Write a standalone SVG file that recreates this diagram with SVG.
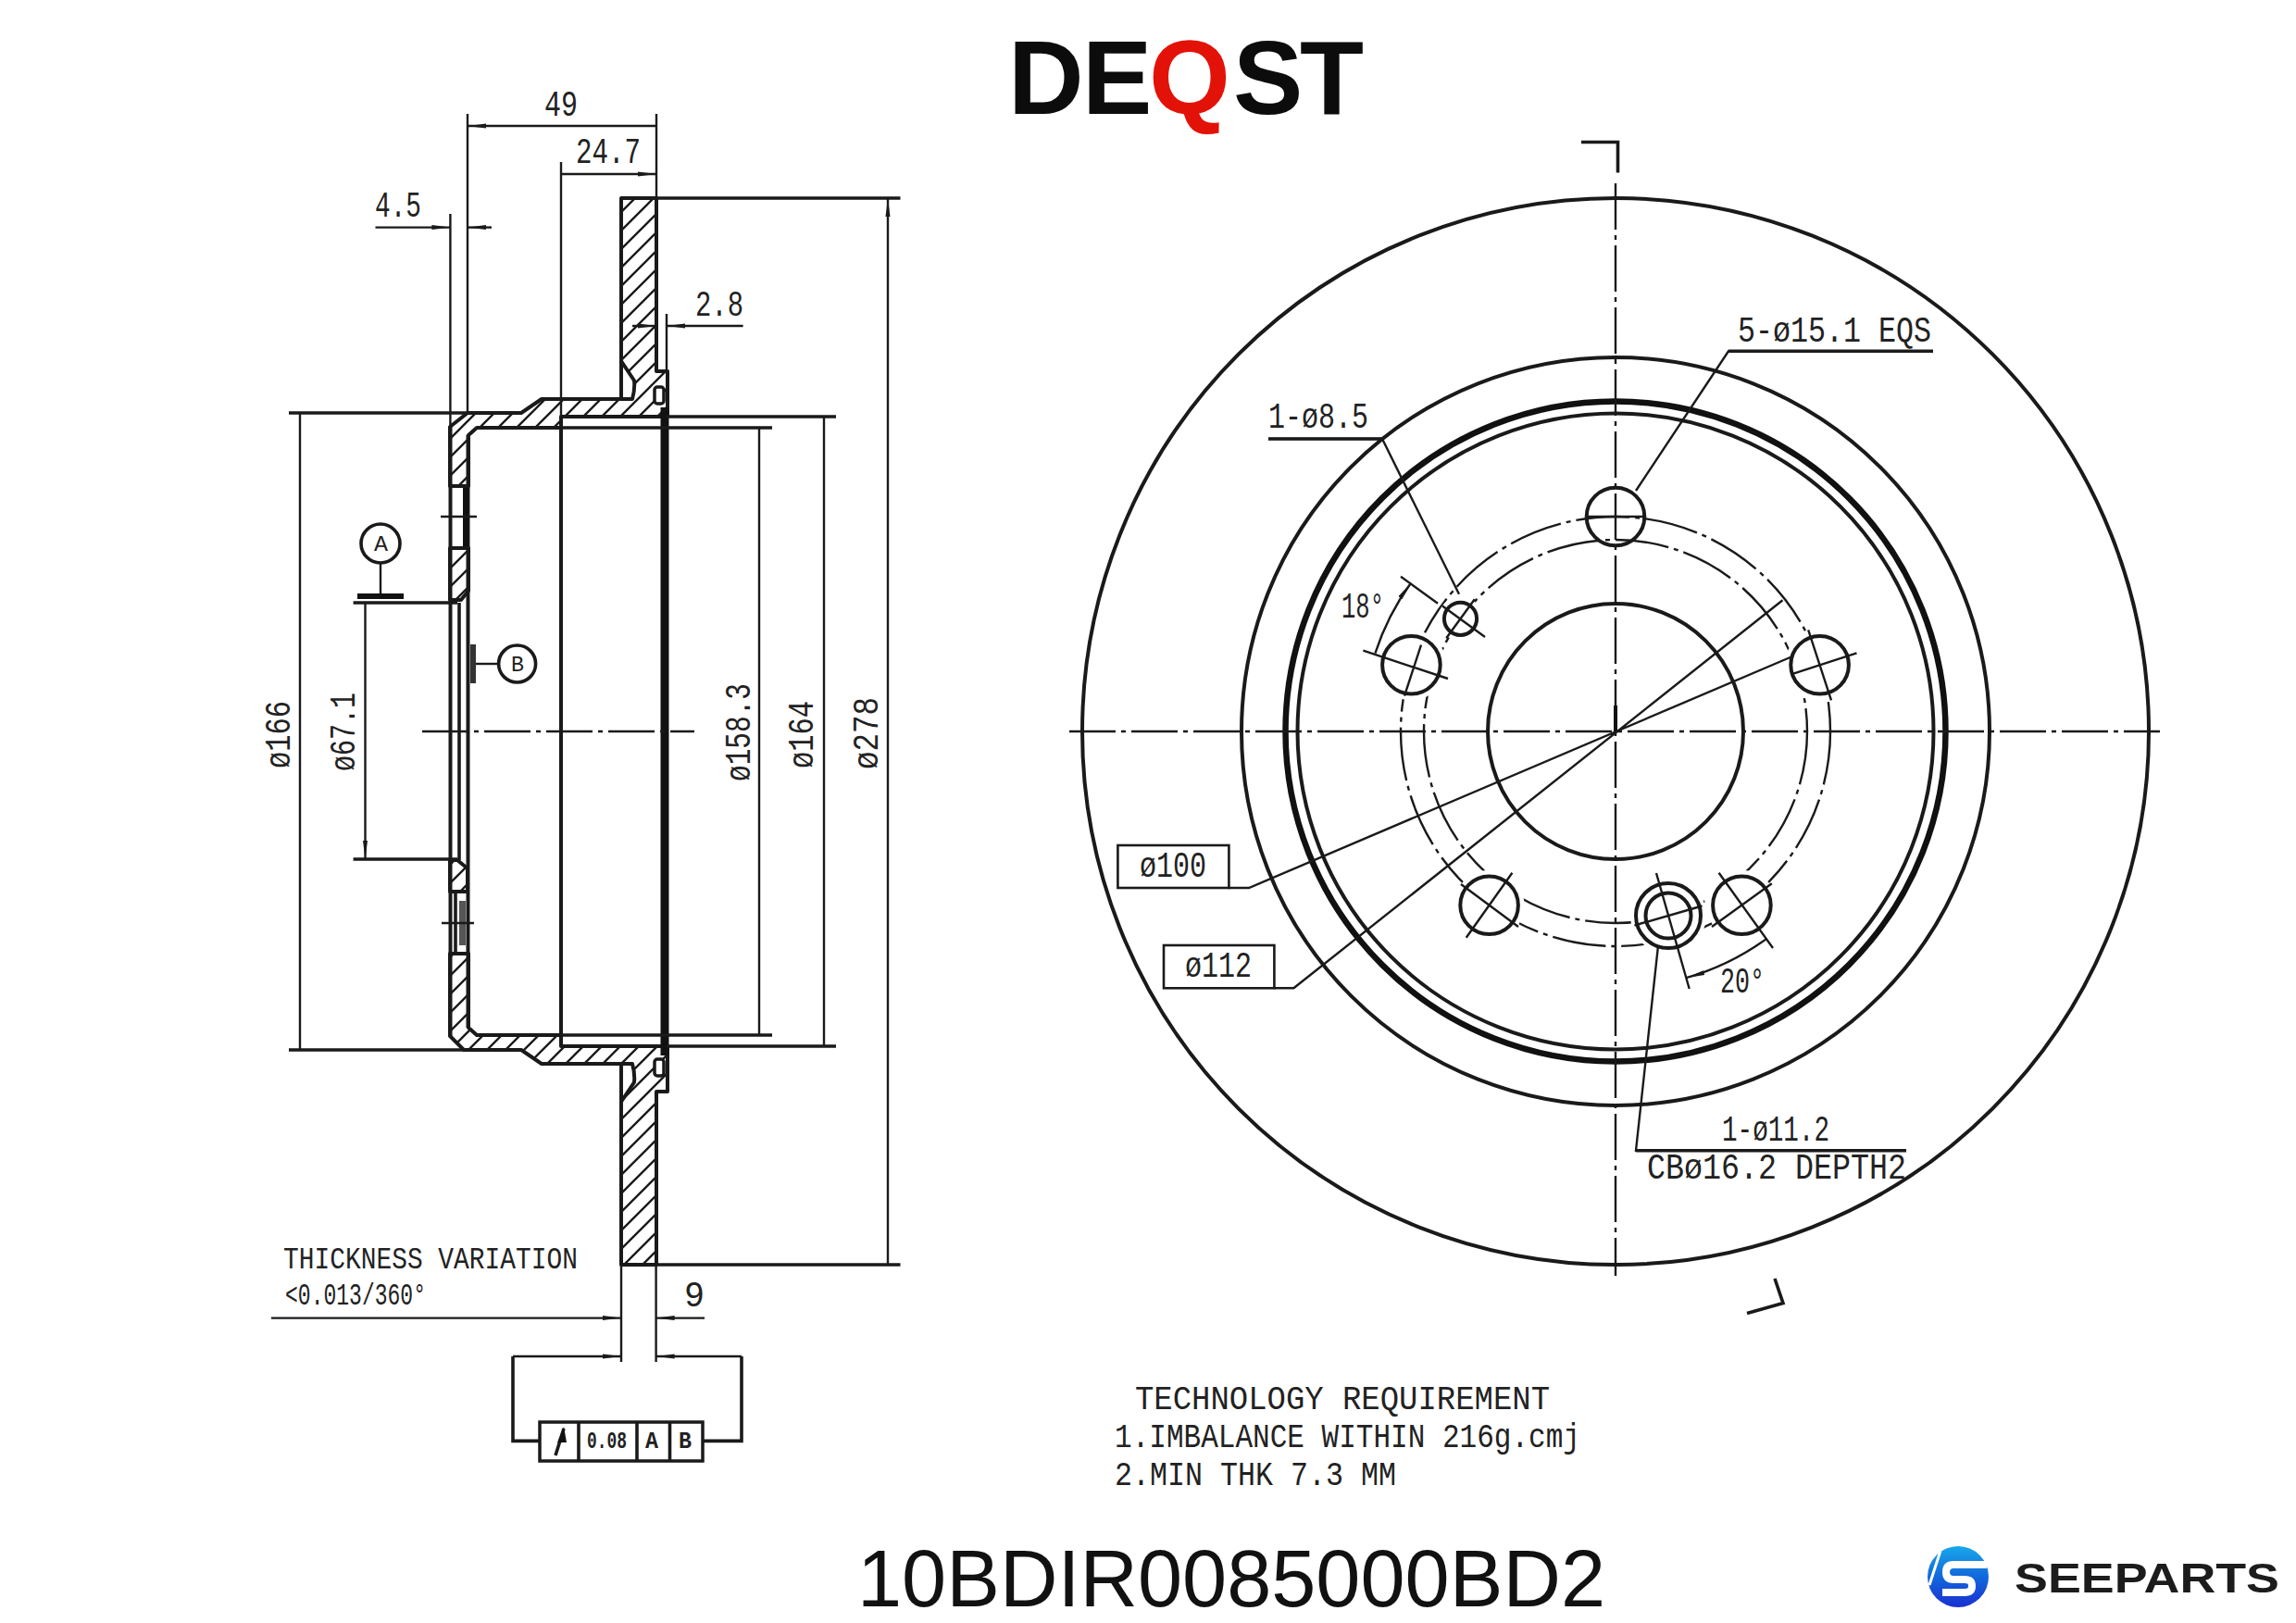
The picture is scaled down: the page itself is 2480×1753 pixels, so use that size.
<svg xmlns="http://www.w3.org/2000/svg" width="2480" height="1753" viewBox="0 0 2480 1753">
<style>
.o{fill:none;stroke:#1a1a1a;stroke-width:4}
.t{fill:none;stroke:#1a1a1a;stroke-width:2.4}
.m{fill:none;stroke:#1a1a1a;stroke-width:3.6}
.c{fill:none;stroke:#1a1a1a;stroke-width:2.4;stroke-dasharray:50 6 5 6}
.p{fill:none;stroke:#1a1a1a;stroke-width:2.4;stroke-dasharray:58 6 5 6}
.s{fill:url(#h);stroke:#1a1a1a;stroke-width:4;stroke-linejoin:round}
.d{fill:none;stroke:#1a1a1a;stroke-width:2.4;marker-end:url(#ar)}
.b{fill:none;stroke:#1a1a1a;stroke-width:2.4;marker-start:url(#ar);marker-end:url(#ar)}
.w{fill:#fff;stroke:none}
.x{font-family:"Liberation Mono","DejaVu Sans Mono",monospace;fill:#222}
.lg{font-family:"Liberation Sans",Arial,sans-serif;font-weight:700;fill:#0c0c0c;font-size:113px}
</style>
<defs>
<pattern id="h" width="20" height="20" patternUnits="userSpaceOnUse"><path d="M-5 5L5-5M0 20L20 0M15 25L25 15" stroke="#1a1a1a" stroke-width="2.4" fill="none"/></pattern>
<marker id="ar" viewBox="0 0 20 8" refX="20" refY="4" markerWidth="20" markerHeight="8" markerUnits="userSpaceOnUse" orient="auto-start-reverse"><path d="M0 1.500L20 4L0 6.500Z" fill="#1a1a1a"/></marker>
<linearGradient id="blue" x1="0" y1="0" x2="0" y2="1"><stop offset="0" stop-color="#18a8ea"/><stop offset=".5" stop-color="#1268dc"/><stop offset="1" stop-color="#1a2fd0"/></linearGradient>
</defs>
<rect width="2480" height="1753" fill="#fff"/>

<g id="logo-deqst">
<text class="lg" x="1089 1169 1241 1332 1404" y="123">DE<tspan fill="#e31208" style="fill:#e31208">Q</tspan>ST</text>
</g>

<g id="section-view">
<path class="s" d="M671 214H709V401H721V450H606V462H515L506 470V525H486V461L505 446H563L585 431H683Q686 420 685 411L671 390Z"/>
<path class="s" d="M671 1366H709V1179H721V1130H606V1118H515L506 1110V1030H486V1119L501 1134H563L585 1149H683Q686 1160 685 1169L671 1190Z"/>
<path class="s" d="M486 592H506V638L498 648H486Z"/>
<path class="s" d="M486 929H494L505 938V963H486Z"/>
<path class="o" d="M671 390V431M671 1190V1149"/>
<rect x="707" y="418" width="10" height="18" rx="3" fill="#fff" stroke="#1a1a1a" stroke-width="3.500"/>
<rect x="707" y="1144" width="10" height="18" rx="3" fill="#fff" stroke="#1a1a1a" stroke-width="3.500"/>
<path class="o" d="M486.500 461V1119M505.500 470V1110M606 450V1130"/>
<path d="M718 440V1140" fill="none" stroke="#111" stroke-width="9"/>
<path class="m" d="M496 651V929"/>
<path d="M503 525V592" fill="none" stroke="#111" stroke-width="6"/>
<path class="o" d="M486 525H506M486 592H506"/>
<path class="m" d="M492 963V1030"/>
<path d="M499.500 973V1021" fill="none" stroke="#555" stroke-width="7"/>
<path class="t" d="M476 558H515M477 997H512"/>
<path class="c" d="M456 790H750"/>
</g>

<g id="front-view">
<circle class="o" cx="1745" cy="790" r="576"/>
<circle class="o" cx="1745" cy="790" r="404"/>
<circle cx="1745" cy="790" r="356.500" fill="none" stroke="#111" stroke-width="6.500"/>
<circle class="o" cx="1745" cy="790" r="343.500"/>
<circle class="o" cx="1745" cy="790" r="138"/>
<circle class="p" cx="1745" cy="790" r="232"/>
<circle class="p" cx="1745" cy="790" r="207"/>
<g class="w">
<circle cx="1965.600" cy="718.300" r="38"/><circle cx="1881.400" cy="977.700" r="38"/><circle cx="1608.600" cy="977.700" r="38"/><circle cx="1524.400" cy="718.300" r="38"/><circle cx="1577.500" cy="668.300" r="24"/><circle cx="1802" cy="989" r="41"/>
</g>
<path class="c" d="M1745 198V1378M1155 790H2333"/>
<path d="M1745 762V790" fill="none" stroke="#111" stroke-width="4"/>
<g id="holes">
<circle class="o" cx="1745" cy="558" r="31.300"/>
<circle class="o" cx="1965.600" cy="718.300" r="31.300"/>
<circle class="o" cx="1881.400" cy="977.700" r="31.300"/>
<circle class="o" cx="1608.600" cy="977.700" r="31.300"/>
<circle class="o" cx="1524.400" cy="718.300" r="31.300"/>
<circle class="o" cx="1577.500" cy="668.300" r="17.600"/>
<circle class="o" cx="1802" cy="989" r="35"/>
<circle class="o" cx="1802" cy="989" r="24.500"/>
</g>
<path class="t" d="M1714 558H1777M1937 727.600L2005.500 705.300M1953.200 680.300L1978 756.300M1856.600 942.700L1915 1024M1849 1001L1913.800 954.200M1633.400 942.700L1583.700 1012.700M1578 955L1640 1001M1472.400 702.700L1564 733M1517 751.600L1535 696.700M1513 622.700L1553 651.700M1558 654.500L1604 688M1592.800 647.300L1562.200 689.300M1789 943L1824.700 1068M1765.500 999.500L1838.500 978.500"/>
<path class="b" d="M1524.100 629.500A273 273 0 0 0 1485.400 705.600M1907.900 1014.100A277 277 0 0 1 1821.300 1056.200"/>
<path class="m" d="M1708 153.500H1747.500V186.500M1887 1418.600L1926 1407.600L1917 1381"/>
</g>

<g id="connectors">
<path class="t" d="M505 123V446M709 123V214M606 175V450M486.400 231V461M720 339V401"/>
<path class="b" d="M505 136H709M606 188H709"/>
<path class="d" d="M405.500 245.600H486.400"/>
<path class="d" d="M531 245.600H505"/>
<path class="d" d="M683 352H709"/>
<path class="d" d="M802.600 352H720"/>
<path class="m" d="M709 214H972.500M709 1366H972.500M720 450H903M720 1130H903M606 462H834M606 1118H834M312 446H505M312 1134H501M381.600 651H494M381.600 928H494"/>
<path class="b" d="M959 214V1366M890 450V1130M820 462V1118M324 446V1134M394.500 651V928"/>
<path class="t" d="M671 1366V1471M708.600 1366V1471"/>
<path class="d" d="M293 1423.600H671"/>
<path class="d" d="M761 1423.600H708.600"/>
<path class="d" d="M554 1465H671"/>
<path class="d" d="M801 1465H708.600"/>
<path class="m" d="M554 1465V1556.400H583M801 1465V1556.400H759"/>
<path class="t" d="M2088 379.300H1867L1767 530M1370 474H1493L1576 641.700M1327 959H1349L1936 709M1376.400 1067.300H1397.400L1925.500 648.300M2059 1242.700H1767L1791 1021.700"/>
<path class="m" d="M1370 474H1493M1867 379.300H2088M1767 1242.700H2059"/>
</g>

<g id="datum-a">
<circle class="m" cx="411" cy="587" r="21"/>
<path class="t" d="M411 608V644"/>
<path d="M386 644H436" stroke="#111" stroke-width="6" fill="none"/>
<text class="x" x="404" y="595" font-size="24" textLength="15" lengthAdjust="spacingAndGlyphs">A</text>
</g>
<g id="datum-b">
<circle class="m" cx="558.600" cy="717" r="20"/>
<path class="t" d="M511 717H538.600"/>
<path d="M511 696V738" stroke="#333" stroke-width="6" fill="none"/>
<text class="x" x="552" y="725" font-size="24" textLength="14" lengthAdjust="spacingAndGlyphs">B</text>
</g>

<g id="tolerance-frame">
<rect x="583" y="1536" width="176" height="42" fill="#fff" stroke="#1a1a1a" stroke-width="3.500"/>
<path class="m" d="M625 1536V1578M688 1536V1578M723.500 1536V1578"/>
<path class="m" d="M600 1572L609 1543"/><path d="M609 1541L602 1558L612 1558Z" fill="#111"/>
<text class="x" x="634" y="1564" font-size="25" font-weight="700" textLength="43" lengthAdjust="spacingAndGlyphs">0.08</text>
<text class="x" x="697" y="1564" font-size="25" font-weight="700" textLength="14" lengthAdjust="spacingAndGlyphs">A</text>
<text class="x" x="733" y="1564" font-size="25" font-weight="700" textLength="14" lengthAdjust="spacingAndGlyphs">B</text>
</g>

<g id="labels" class="x">
<text x="588" y="125" font-size="38" textLength="36" lengthAdjust="spacingAndGlyphs">49</text>
<text x="622" y="176" font-size="38" textLength="70" lengthAdjust="spacingAndGlyphs">24.7</text>
<text x="405" y="234" font-size="38" textLength="50" lengthAdjust="spacingAndGlyphs">4.5</text>
<text x="751" y="341" font-size="38" textLength="52" lengthAdjust="spacingAndGlyphs">2.8</text>
<text transform="translate(313 830) rotate(-90)" font-size="38" textLength="73" lengthAdjust="spacingAndGlyphs">ø166</text>
<text transform="translate(383 833) rotate(-90)" font-size="38" textLength="85" lengthAdjust="spacingAndGlyphs">ø67.1</text>
<text transform="translate(810 844) rotate(-90)" font-size="38" textLength="106" lengthAdjust="spacingAndGlyphs">ø158.3</text>
<text transform="translate(878 830) rotate(-90)" font-size="38" textLength="73" lengthAdjust="spacingAndGlyphs">ø164</text>
<text transform="translate(947.600 831) rotate(-90)" font-size="38" textLength="78" lengthAdjust="spacingAndGlyphs">ø278</text>
<text x="306" y="1370" font-size="33" textLength="318" lengthAdjust="spacingAndGlyphs">THICKNESS VARIATION</text>
<text x="308" y="1409" font-size="33" textLength="152" lengthAdjust="spacingAndGlyphs">&lt;0.013/360°</text>
<text x="739" y="1411" font-size="38" textLength="22" lengthAdjust="spacingAndGlyphs">9</text>
<text x="1877" y="369" font-size="38" textLength="209" lengthAdjust="spacingAndGlyphs">5-ø15.1 EQS</text>
<text x="1370" y="462" font-size="38" textLength="108" lengthAdjust="spacingAndGlyphs">1-ø8.5</text>
<text x="1449" y="667" font-size="38" textLength="46" lengthAdjust="spacingAndGlyphs">18°</text>
<text x="1858" y="1072" font-size="38" textLength="48" lengthAdjust="spacingAndGlyphs">20°</text>
<text x="1860" y="1232" font-size="38" textLength="116" lengthAdjust="spacingAndGlyphs">1-ø11.2</text>
<text x="1779" y="1273" font-size="38" textLength="280" lengthAdjust="spacingAndGlyphs">CBø16.2 DEPTH2</text>
<rect x="1207.400" y="913" width="120" height="46" fill="#fff" stroke="#1a1a1a" stroke-width="2.600"/>
<text x="1231" y="947" font-size="38" textLength="72" lengthAdjust="spacingAndGlyphs">ø100</text>
<rect x="1257" y="1021" width="119.400" height="46.300" fill="#fff" stroke="#1a1a1a" stroke-width="2.600"/>
<text x="1280" y="1055" font-size="38" textLength="72" lengthAdjust="spacingAndGlyphs">ø112</text>
<text x="1226" y="1522" font-size="37" textLength="448" lengthAdjust="spacingAndGlyphs">TECHNOLOGY REQUIREMENT</text>
<text x="1204" y="1563" font-size="37" textLength="503" lengthAdjust="spacingAndGlyphs">1.IMBALANCE WITHIN 216g.cmj</text>
<text x="1204" y="1604" font-size="37" textLength="304" lengthAdjust="spacingAndGlyphs">2.MIN THK 7.3 MM</text>
</g>

<g id="part-number">
<text x="926" y="1735" font-family="'Liberation Sans',Arial,sans-serif" font-size="87" fill="#111" textLength="808" lengthAdjust="spacingAndGlyphs">10BDIR0085000BD2</text>
</g>
<g id="logo-seeparts">
<circle cx="2115" cy="1703" r="33" fill="url(#blue)"/>
<path d="M2088 1676L2104 1664" stroke="#fff" stroke-width="3" fill="none"/>
<path d="M2146 1690H2110Q2102 1690 2102 1698Q2102 1706 2110 1706H2122Q2130 1706 2130 1713Q2130 1720 2122 1720H2098" fill="none" stroke="#fff" stroke-width="8"/>
<path d="M2096 1675L2084 1712" stroke="#fff" stroke-width="3" fill="none"/>
<text x="2176" y="1720" font-family="'Liberation Sans',Arial,sans-serif" font-weight="700" font-size="45" fill="#1c1c1c" textLength="286" lengthAdjust="spacingAndGlyphs">SEEPARTS</text>
</g>
</svg>
